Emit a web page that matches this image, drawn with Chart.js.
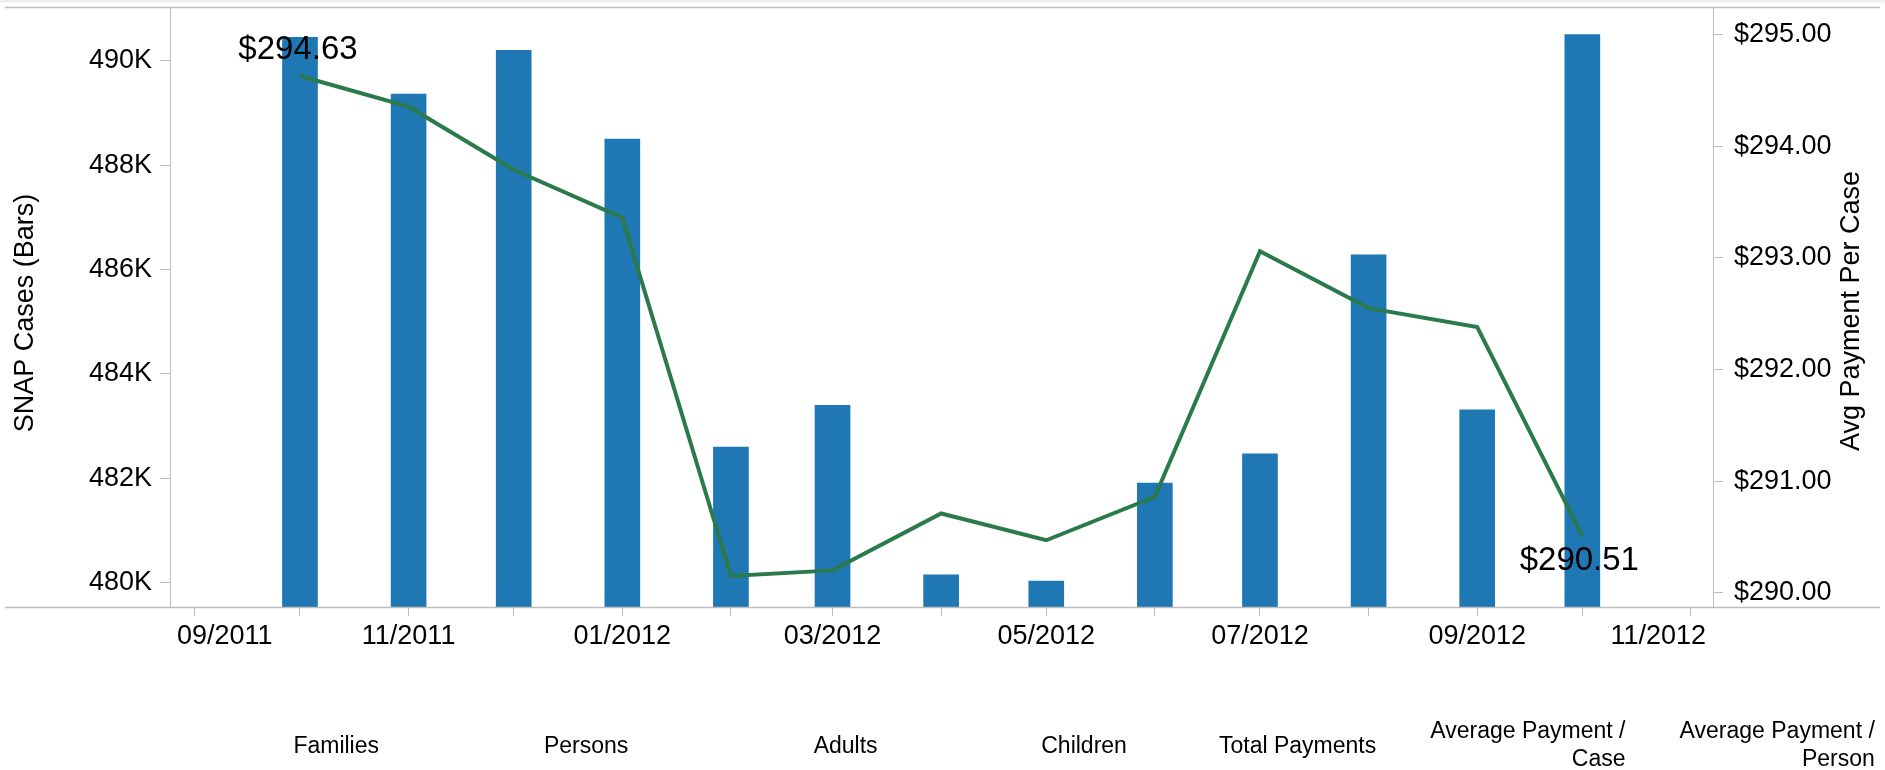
<!DOCTYPE html>
<html>
<head>
<meta charset="utf-8">
<script src="https://cdn.jsdelivr.net/npm/chart.js@4.4.1/dist/chart.umd.min.js"></script>
<style>
  html, body { margin: 0; padding: 0; background: #fff; }
  #wrap { position: relative; width: 1885px; height: 770px; }
</style>
</head>
<body>
<div id="wrap"><canvas id="c"></canvas></div>
<script>
// ---- data ----
const months = ['2011-10-01','2011-11-01','2011-12-01','2012-01-01','2012-02-01','2012-03-01','2012-04-01','2012-05-01','2012-06-01','2012-07-01','2012-08-01','2012-09-01','2012-10-01'];
const snapCases = [490450, 489360, 490200, 488500, 482600, 483400, 480150, 480030, 481910, 482470, 486280, 483310, 490500];
const avgPayment = [294.63, 294.355, 293.79, 293.36, 290.15, 290.20, 290.71, 290.47, 290.86, 293.06, 292.55, 292.38, 290.51];
const xTickMonths = ['2011-09-01','2011-10-01','2011-11-01','2011-12-01','2012-01-01','2012-02-01','2012-03-01','2012-04-01','2012-05-01','2012-06-01','2012-07-01','2012-08-01','2012-09-01','2012-10-01','2012-11-01'];
const xTickLabels = ['09/2011','','11/2011','','01/2012','','03/2012','','05/2012','','07/2012','','09/2012','','11/2012'];
const leftTicks = [480000, 482000, 484000, 486000, 488000, 490000];
const rightTicks = [290, 291, 292, 293, 294, 295];
const leftTitle = 'SNAP Cases (Bars)';
const rightTitle = 'Avg Payment Per Case';
const viewTabs = [['Families'], ['Persons'], ['Adults'], ['Children'], ['Total Payments'], ['Average Payment /', 'Case'], ['Average Payment /', 'Person']];

// ---- chart ----
const FONT = "'Liberation Sans', Arial, Helvetica, sans-serif";
const DAY = 86400000;
const AXIS = '#bdbdbd';

function noPad(s) { s.paddingTop = 0; s.paddingBottom = 0; }

const decor = {
  id: 'decor',
  beforeDraw(chart) {
    const ctx = chart.ctx;
    ctx.save();
    ctx.fillStyle = '#eceef1';
    ctx.fillRect(0, 0, chart.width, 2.5);
    ctx.restore();
  },
  afterDatasetsDraw(chart) {
    const ctx = chart.ctx;
    const pts = chart.getDatasetMeta(0).data;
    ctx.save();
    ctx.font = '33px ' + FONT;
    ctx.fillStyle = '#000';
    ctx.textAlign = 'center';
    ctx.textBaseline = 'middle';
    const first = pts[0], last = pts[pts.length - 1];
    ctx.fillText('$' + avgPayment[0].toFixed(2), first.x - 2, first.y - 26);
    ctx.fillText('$' + avgPayment[avgPayment.length - 1].toFixed(2), last.x - 3, last.y + 25);
    ctx.restore();
  },
  afterDraw(chart) {
    const ctx = chart.ctx;
    const xs = chart.scales.x;
    const area = chart.chartArea;
    ctx.save();
    ctx.strokeStyle = AXIS;
    ctx.lineWidth = 1.5;
    ctx.beginPath();
    ctx.moveTo(5, Math.round(area.top) + 0.5); ctx.lineTo(1880, Math.round(area.top) + 0.5);
    ctx.moveTo(5, Math.round(area.bottom) + 0.5); ctx.lineTo(1880, Math.round(area.bottom) + 0.5);
    ctx.stroke();

    ctx.font = '27px ' + FONT;
    ctx.fillStyle = '#000';
    ctx.textAlign = 'left';
    ctx.textBaseline = 'middle';
    xTickMonths.forEach((d, i) => {
      const lab = xTickLabels[i];
      if (!lab) return;
      const px = xs.getPixelForValue(Date.parse(d));
      const w = ctx.measureText(lab).width;
      let l = px - w / 2;
      l = Math.max(l, xs.left + 7);
      l = Math.min(l, xs.right - 7 - w);
      ctx.fillText(lab, l, area.bottom + 30);
    });

    ctx.textAlign = 'center';
    ctx.font = '27px ' + FONT;
    ctx.save();
    ctx.translate(26, 313);
    ctx.rotate(-Math.PI / 2);
    ctx.fillText(leftTitle, 0, 0);
    ctx.restore();
    ctx.save();
    ctx.translate(1852, 311);
    ctx.rotate(-Math.PI / 2);
    ctx.fillText(rightTitle, 0, 0);
    ctx.restore();

    ctx.font = '23px ' + FONT;
    ctx.textAlign = 'right';
    viewTabs.forEach((lines, i) => {
      const xr = 379 + i * 249.3;
      if (lines.length === 1) {
        ctx.fillText(lines[0], xr, 747);
      } else {
        ctx.fillText(lines[0], xr, 732);
        ctx.fillText(lines[1], xr, 760);
      }
    });
    ctx.restore();
  }
};

new Chart(document.getElementById('c'), {
  type: 'bar',
  data: {
    datasets: [
      {
        type: 'line',
        label: rightTitle,
        data: months.map((m, i) => ({ x: Date.parse(m), y: avgPayment[i] })),
        xAxisID: 'x',
        yAxisID: 'y1',
        borderColor: '#2b7a4b',
        backgroundColor: '#2b7a4b',
        borderWidth: 4,
        pointRadius: 0,
        tension: 0,
        fill: false,
        order: 0
      },
      {
        type: 'bar',
        label: leftTitle,
        data: months.map((m, i) => ({ x: Date.parse(m), y: snapCases[i] })),
        xAxisID: 'x',
        yAxisID: 'y',
        backgroundColor: '#1f77b4',
        barThickness: 35,
        order: 1
      }
    ]
  },
  options: {
    responsive: true,
    maintainAspectRatio: false,
    animation: false,
    layout: { padding: { top: 7, left: 0, right: 0, bottom: 0 } },
    plugins: { legend: { display: false }, tooltip: { enabled: false } },
    scales: {
      x: {
        type: 'linear',
        position: 'bottom',
        min: Date.parse('2011-09-01') - 7.1 * DAY,
        max: Date.parse('2012-11-01') + 6.3 * DAY,
        offset: false,
        afterBuildTicks(s) { s.ticks = xTickMonths.map(d => ({ value: Date.parse(d) })); },
        afterFit(s) { s.height = 163; s.paddingLeft = 0; s.paddingRight = 0; },
        grid: { drawOnChartArea: false, drawTicks: true, tickLength: 9, color: AXIS, offset: false },
        border: { display: true, color: AXIS },
        ticks: { display: false }
      },
      y: {
        position: 'left',
        min: 479534.5,
        max: 491029,
        afterBuildTicks(s) { s.ticks = leftTicks.map(v => ({ value: v })); },
        afterFit(s) { s.width = 170; noPad(s); },
        grid: { drawOnChartArea: false, drawTicks: true, tickLength: 10, color: AXIS },
        border: { display: true, color: AXIS },
        ticks: {
          font: { family: FONT, size: 27 },
          color: '#000',
          padding: 8,
          autoSkip: false,
          callback: v => (v / 1000) + 'K'
        }
      },
      y1: {
        position: 'right',
        min: 289.872,
        max: 295.248,
        afterBuildTicks(s) { s.ticks = rightTicks.map(v => ({ value: v })); },
        afterFit(s) { s.width = 172; noPad(s); },
        grid: { drawOnChartArea: false, drawTicks: true, tickLength: 10, color: AXIS },
        border: { display: true, color: AXIS },
        ticks: {
          font: { family: FONT, size: 27 },
          color: '#000',
          padding: 11,
          autoSkip: false,
          callback: v => '$' + Number(v).toFixed(2)
        }
      }
    }
  },
  plugins: [decor]
});
</script>
</body>
</html>
